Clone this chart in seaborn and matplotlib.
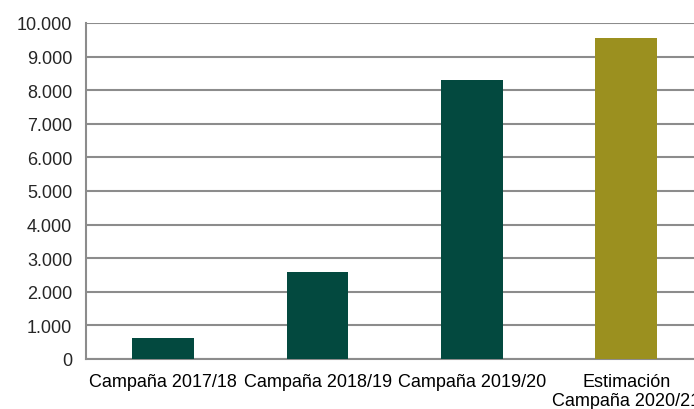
import pandas as pd
import seaborn as sns
import matplotlib.pyplot as plt
from matplotlib.ticker import FuncFormatter, FixedLocator

# datos
categorias = ["Campaña 2017/18", "Campaña 2018/19", "Campaña 2019/20",
              "Estimación\nCampaña 2020/21"]
valores = [625, 2590, 8300, 9550]
tipo = ["real", "real", "real", "estimacion"]

df = pd.DataFrame({"Campaña": categorias, "Valor": valores, "Tipo": tipo})

sns.set_style("white")
plt.rcParams["font.family"] = ["Liberation Sans", "DejaVu Sans"]

fig = plt.figure(figsize=(6.94, 4.10), dpi=100)
ax = fig.add_axes([86 / 694, 1 - 360 / 410, (703.5 - 86) / 694, (360 - 24) / 410])

paleta = {"real": "#03493F", "estimacion": "#9B901F"}
sns.barplot(data=df, x="Campaña", y="Valor", hue="Tipo", palette=paleta,
            width=0.4, dodge=False, legend=False, saturation=1, linewidth=0,
            ax=ax, zorder=3)

ax.set_ylim(0, 10000)
ax.set_xlim(-0.5, 3.5)
ax.set_yticks(range(0, 10001, 1000))
ax.yaxis.set_major_formatter(FuncFormatter(lambda v, p: f"{int(v):,}".replace(",", ".")))
ax.yaxis.grid(True, color="#8c8c8c", linewidth=1.5, zorder=0)
ax.set_axisbelow(True)

ax.xaxis.set_minor_locator(FixedLocator([-0.5, 0.5, 1.5, 2.5, 3.5]))
ax.tick_params(axis="x", which="major", length=0, pad=10, labelsize=13, colors="#000000")
ax.tick_params(axis="x", which="minor", length=5, width=1.5, color="#8c8c8c", direction="out")
ax.tick_params(axis="y", length=5, width=1.5, color="#8c8c8c", direction="out",
               labelsize=13, pad=5)

for s in ["top", "right"]:
    ax.spines[s].set_visible(False)
for s in ["left", "bottom"]:
    ax.spines[s].set_color("#8c8c8c")
    ax.spines[s].set_linewidth(1.5)

ax.set_xlabel("")
ax.set_ylabel("")

for lbl in ax.get_xticklabels():
    lbl.set_verticalalignment("top")
    lbl.set_linespacing(1.15)

fig.savefig("out.png", dpi=100)
